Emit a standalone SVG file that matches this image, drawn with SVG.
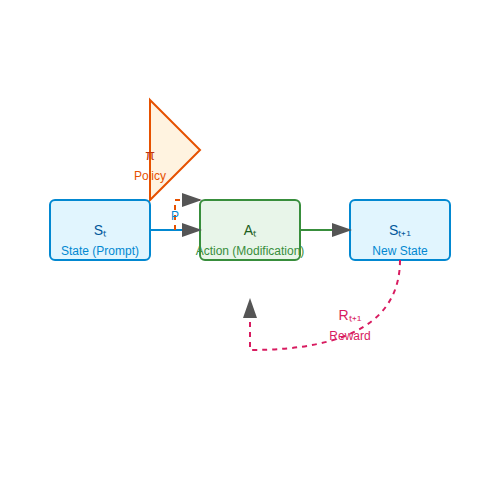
<svg xmlns="http://www.w3.org/2000/svg" width="500" height="500" viewBox="0 0 500 500">
<style>
text{font-family:"Liberation Sans",Arial,sans-serif;text-anchor:middle}
.t{font-size:14px}
.s{font-size:12px}
.line{fill:none;stroke-width:2}
</style>
<defs>
<marker id="arrow" markerWidth="10" markerHeight="7" refX="9" refY="3.5" orient="auto">
<polygon points="0 0, 10 3.5, 0 7" fill="#555"/>
</marker>
</defs>
<rect width="500" height="500" fill="#fff"/>
<g id="policy">
<polygon points="150,100 200,150 150,200" fill="#fff3e0" stroke="#e65100" stroke-width="2"/>
<text x="150" y="160" class="t" fill="#bf360c">π</text>
<text x="150" y="180" class="s" fill="#e65100">Policy</text>
</g>
<g id="state">
<rect x="50" y="200" width="100" height="60" rx="5" fill="#e1f5fe" stroke="#0288d1" stroke-width="2"/>
<text x="100" y="235" class="t" fill="#01579b">Sₜ</text>
<text x="100" y="255" class="s" fill="#0288d1">State (Prompt)</text>
</g>
<g id="action">
<rect x="200" y="200" width="100" height="60" rx="5" fill="#e8f5e9" stroke="#388e3c" stroke-width="2"/>
<text x="250" y="235" class="t" fill="#1b5e20">Aₜ</text>
<text x="250" y="255" class="s" fill="#388e3c">Action (Modification)</text>
</g>
<g id="newstate">
<rect x="350" y="200" width="100" height="60" rx="5" fill="#e1f5fe" stroke="#0288d1" stroke-width="2"/>
<text x="400" y="235" class="t" fill="#01579b">Sₜ₊₁</text>
<text x="400" y="255" class="s" fill="#0288d1">New State</text>
</g>
<g id="connectors">
<path class="line" d="M150,230 L200,230" stroke="#0288d1" marker-end="url(#arrow)"/>
<path class="line" d="M175,230 L175,200 L200,200" stroke="#e65100" stroke-dasharray="5,5" marker-end="url(#arrow)"/>
<text x="175" y="220" class="s" fill="#0288d1">P</text>
<path class="line" d="M300,230 L350,230" stroke="#388e3c" marker-end="url(#arrow)"/>
<path class="line" d="M400,260 Q400,350 250,350 L250,300" stroke="#d81b60" stroke-dasharray="5,5" marker-end="url(#arrow)"/>
<text x="350" y="320" class="t" fill="#d81b60">Rₜ₊₁</text>
<text x="350" y="340" class="s" fill="#d81b60">Reward</text>
</g>
</svg>
